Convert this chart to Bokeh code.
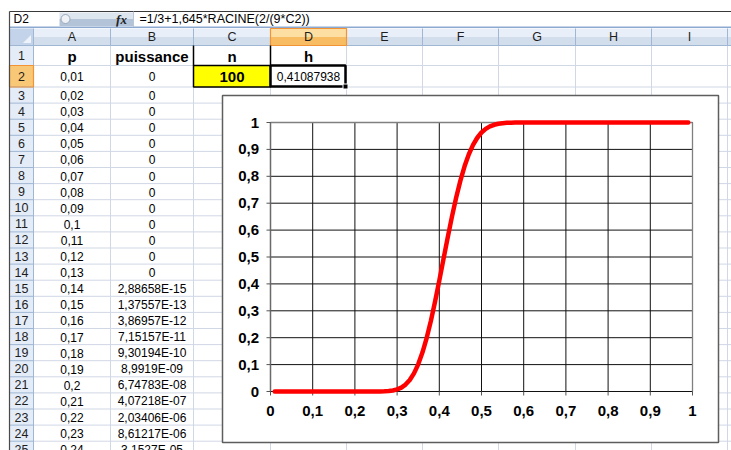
from bokeh.plotting import figure
from bokeh.models import Range1d
from bokeh.core.properties import value
from bokeh.embed import file_html
from bokeh.resources import INLINE

# ---------------- data ----------------
cell_ref = "D2"
formula = "=1/3+1,645*RACINE(2/(9*C2))"
col_letters = ["A", "B", "C", "D", "E", "F", "G", "H", "I"]
head_labels = ["p", "puissance", "n", "h"]
n_value = "100"
h_value = "0,41087938"
p_labels = ["0,01", "0,02", "0,03", "0,04", "0,05", "0,06", "0,07", "0,08",
            "0,09", "0,1", "0,11", "0,12", "0,13", "0,14", "0,15", "0,16",
            "0,17", "0,18", "0,19", "0,2", "0,21", "0,22", "0,23", "0,24"]
puissance_labels = ["0", "0", "0", "0", "0", "0", "0", "0", "0", "0", "0", "0", "0",
                    "2,88658E-15", "1,37557E-13", "3,86957E-12", "7,15157E-11",
                    "9,30194E-10", "8,9919E-09", "6,74783E-08", "4,07218E-07",
                    "2,03406E-06", "8,61217E-06", "3,1527E-05"]

curve_p = [0.01, 0.05, 0.10, 0.15, 0.20, 0.22, 0.24, 0.25, 0.26, 0.27, 0.28, 0.29,
           0.30, 0.31, 0.32, 0.33, 0.34, 0.35, 0.36, 0.37, 0.38, 0.39, 0.40, 0.41,
           0.42, 0.43, 0.44, 0.45, 0.46, 0.47, 0.48, 0.49, 0.50, 0.51, 0.52, 0.53,
           0.54, 0.55, 0.56, 0.57, 0.58, 0.59, 0.60, 0.65, 0.70, 0.75, 0.80, 0.85,
           0.90, 0.95, 0.99]
curve_power = [0.0, 0.0, 0.0, 0.0, 0.0000001, 0.000002, 0.00003, 0.0001, 0.0003, 0.0008,
               0.0018, 0.0039, 0.0078, 0.0146, 0.0257, 0.0427, 0.0673, 0.101, 0.1446,
               0.1986, 0.2623, 0.3343, 0.4121, 0.4929, 0.573, 0.650, 0.721, 0.784,
               0.838, 0.882, 0.9167, 0.9433, 0.9627, 0.9763, 0.9855, 0.9915, 0.9952,
               0.9974, 0.9987, 0.9994, 0.9997, 0.9999, 0.99994, 1.0, 1.0, 1.0, 1.0,
               1.0, 1.0, 1.0, 1.0]

tick_values = [0, 0.1, 0.2, 0.3, 0.4, 0.5, 0.6, 0.7, 0.8, 0.9, 1]
tick_labels = ["0", "0,1", "0,2", "0,3", "0,4", "0,5", "0,6", "0,7", "0,8", "0,9", "1"]

# ---------------- layout constants (pixels) ----------------
W, H = 731, 450
FONT = value("Liberation Sans")
col_edges = [9, 33, 110, 193, 270, 346, 422, 498, 575, 651, 727, 803]
row_tops = [45, 65] + [86.5 + 16.1 * j for j in range(23)]
row_bots = row_tops[1:] + [row_tops[-1] + 16.1]
row_mid = [(a + b) / 2 for a, b in zip(row_tops, row_bots)]
col_mid = [(col_edges[i + 1] + col_edges[i + 2]) / 2 for i in range(len(col_letters))]
HEAD_TOP, HEAD_BOT = 28, 45
# chart plot area in pixels
PL, PR, PT, PB = 270, 692, 122, 391

p = figure(width=W, height=H, x_range=Range1d(0, W), y_range=Range1d(H, 0),
           min_border=0, output_backend="svg", toolbar_location=None,
           outline_line_color=None, background_fill_color="white")
p.axis.visible = False
p.grid.visible = False
# chart scales: 0..1 mapped onto the plot area
sx = (PR - PL)
sy = (PB - PT)
p.extra_x_ranges = {"cx": Range1d(-PL / sx, 1 + (W - PR) / sx)}
p.extra_y_ranges = {"cy": Range1d(-(H - PB) / sy, 1 + PT / sy)}

# formula bar
p.quad(left=[9], right=[W], top=[11], bottom=[26], fill_color="white", line_color=None)
p.segment(x0=[9], y0=[11], x1=[W], y1=[11], line_color="#3a3a3a", line_width=1.2)
p.quad(left=[59], right=[133], top=[12], bottom=[18.5], fill_color="#dde5ef", line_color=None)
p.quad(left=[59], right=[133], top=[18.5], bottom=[25.5], fill_color="#b3c3d8", line_color=None)
p.scatter(x=[65], y=[18.5], size=9, fill_color="#eef2f6", line_color="#9aa8ba")
p.segment(x0=[133], y0=[11], x1=[133], y1=[26], line_color="#b8c6d8")
p.text(x=[13], y=[18.5], text=[cell_ref], text_font=FONT, text_font_size="12px",
       text_baseline="middle", text_align="left", text_color="black")
p.text(x=[121], y=[18.5], text=["fx"], text_font=value("Liberation Serif"),
       text_font_style="bold italic", text_font_size="13px",
       text_baseline="middle", text_align="center", text_color="#222222")
p.text(x=[139], y=[18.5], text=[formula], text_font=FONT, text_font_size="12.5px",
       text_baseline="middle", text_align="left", text_color="black")
p.segment(x0=[9], y0=[26.7], x1=[W], y1=[26.7], line_color="#8ea9cf", line_width=1.5)

# column headers
p.quad(left=[9], right=[W], top=[HEAD_TOP], bottom=[36.5], fill_color="#e9eff8", line_color=None)
p.quad(left=[9], right=[W], top=[36.5], bottom=[HEAD_BOT], fill_color="#d3deed", line_color=None)
p.quad(left=[9], right=[33], top=[HEAD_TOP], bottom=[HEAD_BOT], fill_color="#c3d4ea", line_color=None)
p.patch(x=[30.5, 30.5, 22.5], y=[34.5, 42.5, 42.5], fill_color="#eef3f9", line_color=None)
p.quad(left=[col_edges[4]], right=[col_edges[5]], top=[HEAD_TOP], bottom=[36.5],
       fill_color="#fddfa4", line_color=None)
p.quad(left=[col_edges[4]], right=[col_edges[5]], top=[36.5], bottom=[HEAD_BOT],
       fill_color="#f8bd62", line_color=None)

# row headers
p.quad(left=[9], right=[33], top=[HEAD_BOT], bottom=[H], fill_color="#e4ecf7", line_color=None)
p.quad(left=[9], right=[33], top=[row_tops[1]], bottom=[row_bots[1]],
       fill_color="#f9c877", line_color=None)

# cell gridlines
gx = col_edges[2:]
p.segment(x0=gx, y0=[HEAD_BOT] * len(gx), x1=gx, y1=[H] * len(gx),
          line_color="#d0d7e5", line_width=1)
p.segment(x0=[33] * len(row_bots), y0=row_bots, x1=[W] * len(row_bots), y1=row_bots,
          line_color="#d0d7e5", line_width=1)
# header separators
hx = col_edges[1:]
p.segment(x0=hx, y0=[HEAD_TOP] * len(hx), x1=hx, y1=[HEAD_BOT] * len(hx),
          line_color="#a0b7d3", line_width=1)
p.segment(x0=[9], y0=[HEAD_BOT], x1=[W], y1=[HEAD_BOT], line_color="#a0b7d3")
p.segment(x0=[9] * len(row_bots), y0=row_bots, x1=[33] * len(row_bots), y1=row_bots,
          line_color="#a0b7d3", line_width=1)
p.segment(x0=[33], y0=[HEAD_BOT], x1=[33], y1=[H], line_color="#a0b7d3")
# orange highlight borders
p.quad(left=[col_edges[4]], right=[col_edges[5]], top=[HEAD_TOP], bottom=[HEAD_BOT],
       fill_color=None, line_color="#f29436", line_width=1.2)
p.quad(left=[9], right=[33], top=[row_tops[1]], bottom=[row_bots[1]],
       fill_color=None, line_color="#f29436", line_width=1.2)
# left dark border
p.segment(x0=[9], y0=[11], x1=[9], y1=[H], line_color="#4a4a4a", line_width=1.2)

# special cells
p.segment(x0=[col_edges[3], col_edges[4]], y0=[row_tops[0]] * 2,
          x1=[col_edges[3], col_edges[4]], y1=[row_bots[0]] * 2,
          line_color="black", line_width=1.5)
p.quad(left=[col_edges[3]], right=[col_edges[4]], top=[row_tops[1]], bottom=[row_bots[1]],
       fill_color="#ffff00", line_color="black", line_width=1.5)
p.quad(left=[col_edges[4]], right=[col_edges[5] - 1], top=[row_tops[1]], bottom=[row_bots[1] - 0.5],
       fill_color="white", line_color="black", line_width=2.5)
p.quad(left=[col_edges[5] - 3.5], right=[col_edges[5] + 1.5], top=[row_bots[1] - 3],
       bottom=[row_bots[1] + 2], fill_color="black", line_color="white", line_width=1)

# header texts
p.text(x=col_mid, y=[36.5] * len(col_mid), text=col_letters, text_font=FONT,
       text_font_size="12.5px", text_align="center", text_baseline="middle",
       text_color="#1e1e1e")
rows_num = [str(i + 1) for i in range(len(row_tops))]
p.text(x=[21] * len(rows_num), y=row_mid, text=rows_num, text_font=FONT,
       text_font_size="12.5px", text_align="center", text_baseline="middle",
       text_color="#1e1e1e")
p.text(x=col_mid[:4], y=[row_mid[0] + 0.5] * 4, text=head_labels, text_font=FONT,
       text_font_style="bold", text_font_size="15px", text_align="center",
       text_baseline="middle", text_color="black")
p.text(x=[col_mid[2]], y=[row_mid[1] + 0.5], text=[n_value], text_font=FONT,
       text_font_style="bold", text_font_size="15px", text_align="center",
       text_baseline="middle", text_color="black")
p.text(x=[col_mid[3]], y=[row_mid[1] + 0.5], text=[h_value], text_font=FONT,
       text_font_size="12px", text_align="center", text_baseline="middle",
       text_color="black")
data_rows = row_mid[1:1 + len(p_labels)]
p.text(x=[col_mid[0]] * len(p_labels), y=[y + 0.5 for y in data_rows], text=p_labels,
       text_font=FONT, text_font_size="12px", text_align="center",
       text_baseline="middle", text_color="black")
p.text(x=[col_mid[1]] * len(puissance_labels), y=[y + 0.5 for y in data_rows],
       text=puissance_labels, text_font=FONT, text_font_size="12px",
       text_align="center", text_baseline="middle", text_color="black")

# ---------------- chart ----------------
p.quad(left=[222], right=[718], top=[95], bottom=[442], fill_color="white",
       line_color="#5e5e5e", line_width=1.5)

C = dict(x_range_name="cx", y_range_name="cy")
nt = len(tick_values)
# gridlines
p.segment(x0=tick_values, y0=[0] * nt, x1=tick_values, y1=[1] * nt,
          line_color="#111111", line_width=1, **C)
p.segment(x0=[0] * nt, y0=tick_values, x1=[1] * nt, y1=tick_values,
          line_color="#111111", line_width=1, **C)
p.segment(x0=[1, 0], y0=[0, 1], x1=[1, 1], y1=[1, 1], line_color="#808080",
          line_width=1.3, **C)
# axis line and tick marks
p.segment(x0=[0], y0=[0], x1=[0], y1=[1], line_color="#6a6a6a", line_width=1.5, **C)
tick_dx = 4 / sx
tick_dy = 4 / sy
p.segment(x0=[0] * nt, y0=tick_values, x1=[-tick_dx] * nt, y1=tick_values,
          line_color="#555555", line_width=1, **C)
p.segment(x0=tick_values, y0=[0] * nt, x1=tick_values, y1=[-tick_dy] * nt,
          line_color="#555555", line_width=1, **C)
# tick labels
p.text(x=[0] * nt, y=tick_values, text=tick_labels, x_offset=-11.5,
       text_align="right", text_baseline="middle", text_font=FONT,
       text_font_style="bold", text_font_size="15px", text_color="black", **C)
p.text(x=tick_values, y=[0] * nt, text=tick_labels, y_offset=19.5,
       text_align="center", text_baseline="middle", text_font=FONT,
       text_font_style="bold", text_font_size="15px", text_color="black", **C)
# power curve
p.line(curve_p, curve_power, line_color="#ff0000", line_width=4.5,
       line_join="round", line_cap="round", **C)

open("out.html", "w").write(file_html(p, INLINE))
